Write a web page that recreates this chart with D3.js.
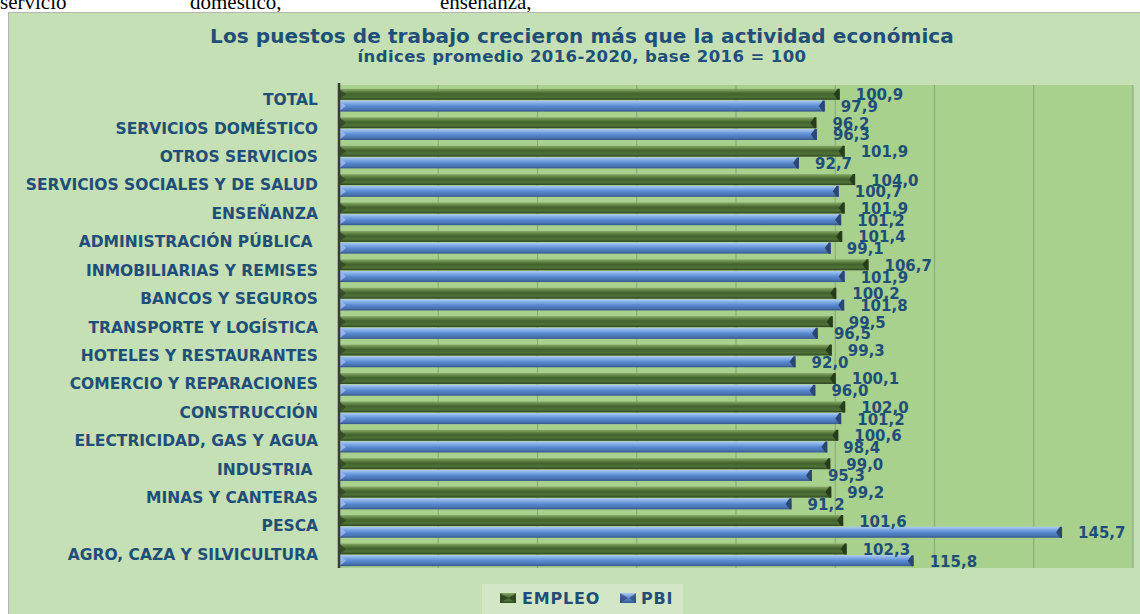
<!DOCTYPE html>
<html>
<head>
<meta charset="utf-8">
<script src="https://cdn.jsdelivr.net/npm/d3@7"></script>
<style>
  html, body { margin: 0; padding: 0; background: #fff; }
  svg { display: block; }
  text { font-family: 'DejaVu Sans', sans-serif; font-weight: bold; }
</style>
</head>
<body>
<div id="root"></div>
<script>
var w = 1140,
    h = 614;

// data (two labels carry a trailing space, as in the source)
var categories = [
  'TOTAL',
  'SERVICIOS DOMÉSTICO',
  'OTROS SERVICIOS',
  'SERVICIOS SOCIALES Y DE SALUD',
  'ENSEÑANZA',
  'ADMINISTRACIÓN PÚBLICA ',
  'INMOBILIARIAS Y REMISES',
  'BANCOS Y SEGUROS',
  'TRANSPORTE Y LOGÍSTICA',
  'HOTELES Y RESTAURANTES',
  'COMERCIO Y REPARACIONES',
  'CONSTRUCCIÓN',
  'ELECTRICIDAD, GAS Y AGUA',
  'INDUSTRIA ',
  'MINAS Y CANTERAS',
  'PESCA',
  'AGRO, CAZA Y SILVICULTURA'
];
var empleo = [100.9, 96.2, 101.9, 104.0, 101.9, 101.4, 106.7, 100.2, 99.5, 99.3, 100.1, 102.0, 100.6, 99.0, 99.2, 101.6, 102.3];
var pbi = [97.9, 96.3, 92.7, 100.7, 101.2, 99.1, 101.9, 101.8, 96.5, 92.0, 96.0, 101.2, 98.4, 95.3, 91.2, 145.7, 115.8];
var seriesNames = ['EMPLEO', 'PBI'];
var xTicks = [0, 20, 40, 60, 80, 100, 120, 140, 160];

var textColor = '#1f4e79';
var fmt = function (v) { return d3.format('.1f')(v).replace('.', ','); };

var svg = d3.select('#root')
  .append('svg')
    .attr('width', w)
    .attr('height', h);

var defs = svg.append('defs');

function gradient(id, stops) {
  var g = defs.append('linearGradient')
      .attr('id', id)
      .attr('x1', 0).attr('y1', 0)
      .attr('x2', 0).attr('y2', 1);
  stops.forEach(function (s) {
    g.append('stop').attr('offset', s[0]).attr('stop-color', s[1]);
  });
}
gradient('gGreen', [[0, '#8aab6e'], [0.2, '#648a48'], [0.45, '#42632d'], [0.75, '#4f7238'], [1, '#2e4720']]);
gradient('gBlue', [[0, '#b0cbf0'], [0.25, '#7eaae6'], [0.55, '#5586cc'], [0.8, '#4a74b3'], [1, '#35558a']]);

// text cut off at the top of the page
var topWords = [['servicio', 0], ['doméstico,', 190], ['enseñanza,', 440]];
svg.selectAll('.topword')
    .data(topWords)
  .enter().append('text')
    .attr('class', 'topword')
    .attr('x', function (d) { return d[1]; })
    .attr('y', 9)
    .style('font-family', "'Liberation Serif', serif")
    .style('font-weight', 'normal')
    .style('font-size', '21px')
    .style('fill', '#000')
    .text(function (d) { return d[0]; });

// chart area
svg.append('rect')
    .attr('x', 8.5)
    .attr('y', 12.5)
    .attr('width', w)
    .attr('height', h)
    .attr('fill', '#c5e0b4')
    .attr('stroke', '#b4b4b4');

var plot = { left: 339, right: 1133, top: 85, bottom: 568 };

var x = d3.scaleLinear()
    .domain([0, 160])
    .range([plot.left, plot.right]);

var y = d3.scaleBand()
    .domain(categories)
    .range([plot.top + 1, plot.bottom + 1])
    .paddingInner(0.2)
    .paddingOuter(0.1);

var ySub = d3.scaleBand()
    .domain(seriesNames)
    .range([0, y.bandwidth()])
    .paddingInner(0.06);

svg.append('rect')
    .attr('x', plot.left)
    .attr('y', plot.top)
    .attr('width', plot.right - plot.left)
    .attr('height', plot.bottom - plot.top)
    .attr('fill', '#a9d18e');

svg.selectAll('.grid')
    .data(xTicks.slice(1))
  .enter().append('line')
    .attr('class', 'grid')
    .attr('x1', function (d) { return x(d); })
    .attr('x2', function (d) { return x(d); })
    .attr('y1', plot.top)
    .attr('y2', plot.bottom)
    .attr('stroke', '#8fa97d')
    .attr('stroke-width', 1.2);

// title
svg.append('text')
    .attr('x', 582)
    .attr('y', 43)
    .attr('text-anchor', 'middle')
    .style('font-size', '20px')
    .style('letter-spacing', '0.1px')
    .style('fill', textColor)
    .text('Los puestos de trabajo crecieron más que la actividad económica');

svg.append('text')
    .attr('x', 582)
    .attr('y', 62)
    .attr('text-anchor', 'middle')
    .style('font-size', '16.5px')
    .style('letter-spacing', '0.4px')
    .style('fill', textColor)
    .text('índices promedio 2016-2020, base 2016 = 100');

// bars
var rows = categories.map(function (c, i) {
  return { name: c, values: [empleo[i], pbi[i]] };
});

var fills = { EMPLEO: 'url(#gGreen)', PBI: 'url(#gBlue)' };
var caps = { EMPLEO: '#263c1a', PBI: '#2c4572' };
var starts = { EMPLEO: '#2f4a20', PBI: '#9fc0ee' };

function barData(d) {
  return seriesNames.map(function (s, j) {
    return { series: s, value: d.values[j] };
  });
}

var barLayer = svg.append('g'),
    labelLayer = svg.append('g');

var row = barLayer.selectAll('.row')
    .data(rows)
  .enter().append('g')
    .attr('class', 'row')
    .attr('transform', function (d) {
      return 'translate(0,' + y(d.name) + ')';
    });

var bar = row.selectAll('.bar')
    .data(barData)
  .enter().append('g')
    .attr('class', 'bar');

bar.append('rect')
    .attr('x', x(0))
    .attr('y', function (d) { return ySub(d.series); })
    .attr('width', function (d) { return x(d.value) - x(0); })
    .attr('height', ySub.bandwidth())
    .attr('fill', function (d) { return fills[d.series]; });

// bevel at the start of the bar
bar.append('path')
    .attr('d', function (d) {
      var y0 = ySub(d.series), bh = ySub.bandwidth(), x0 = x(0);
      return 'M' + x0 + ',' + y0 + 'L' + (x0 + 7) + ',' + (y0 + bh / 2) +
        'L' + x0 + ',' + (y0 + bh) + 'Z';
    })
    .attr('fill', function (d) { return starts[d.series]; })
    .attr('opacity', 0.8);

// dark end cap
bar.append('path')
    .attr('d', function (d) {
      var y0 = ySub(d.series), bh = ySub.bandwidth(), x1 = x(d.value);
      return 'M' + (x1 - 6) + ',' + (y0 + bh / 2) + 'L' + (x1 - 2) + ',' + y0 +
        'L' + x1 + ',' + y0 + 'L' + x1 + ',' + (y0 + bh) +
        'L' + (x1 - 2) + ',' + (y0 + bh) + 'Z';
    })
    .attr('fill', function (d) { return caps[d.series]; });

// value labels on top of every bar
var labelRow = labelLayer.selectAll('.lrow')
    .data(rows)
  .enter().append('g')
    .attr('class', 'lrow')
    .attr('transform', function (d) {
      return 'translate(0,' + y(d.name) + ')';
    });

labelRow.selectAll('text')
    .data(barData)
  .enter().append('text')
    .attr('x', function (d) { return x(d.value) + 16; })
    .attr('y', function (d) { return ySub(d.series) + ySub.bandwidth() / 2 + 1; })
    .attr('dominant-baseline', 'central')
    .style('font-size', '15px')
    .style('fill', textColor)
    .text(function (d) { return fmt(d.value); });

// axis
svg.append('line')
    .attr('x1', x(0))
    .attr('x2', x(0))
    .attr('y1', plot.top - 2)
    .attr('y2', plot.bottom)
    .attr('stroke', '#3a3a3a')
    .attr('stroke-width', 2.5);

svg.selectAll('.cat')
    .data(categories)
  .enter().append('text')
    .attr('class', 'cat')
    .attr('x', 318)
    .attr('y', function (d) { return y(d) + y.bandwidth() / 2; })
    .attr('dominant-baseline', 'central')
    .attr('text-anchor', 'end')
    .style('white-space', 'pre')
    .style('font-size', '15.5px')
    .style('fill', textColor)
    .text(function (d) { return d; });

// legend
var legend = svg.append('g')
    .attr('transform', 'translate(482,584)');

legend.append('rect')
    .attr('width', 201)
    .attr('height', 40)
    .attr('fill', '#d3e7c6');

var legendItems = [
  { name: 'EMPLEO', x: 18, tx: 40 },
  { name: 'PBI', x: 138, tx: 159 }
];

var item = legend.selectAll('.item')
    .data(legendItems)
  .enter().append('g')
    .attr('class', 'item');

item.append('rect')
    .attr('x', function (d) { return d.x; })
    .attr('y', 9)
    .attr('width', 16)
    .attr('height', 10)
    .attr('fill', function (d) { return fills[d.name]; });

item.append('path')
    .attr('d', function (d) {
      return 'M' + d.x + ',9L' + (d.x + 8) + ',14L' + d.x + ',19Z' +
        'M' + (d.x + 16) + ',9L' + (d.x + 9) + ',14L' + (d.x + 16) + ',19Z';
    })
    .attr('fill', function (d) { return caps[d.name]; })
    .attr('opacity', 0.7);

item.append('text')
    .attr('x', function (d) { return d.tx; })
    .attr('y', 20)
    .style('font-size', '16px')
    .style('letter-spacing', '0.8px')
    .style('fill', textColor)
    .text(function (d) { return d.name; });
</script>
</body>
</html>
